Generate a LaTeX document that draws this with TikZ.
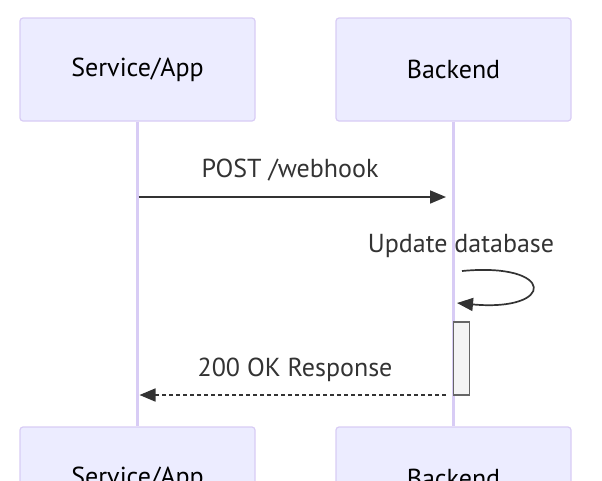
\documentclass[tikz,border=0pt]{standalone}
\usepackage{fontspec}
\setmainfont{PT Sans}
\usepackage{tikz}
\usetikzlibrary{positioning, arrows.meta}
\definecolor{sActor}{HTML}{ECECFF}
\definecolor{sBorder}{HTML}{D8CCF5}
\definecolor{sText}{HTML}{333333}
\definecolor{sAct}{HTML}{F4F4F4}
\definecolor{sActLine}{HTML}{666666}

\tikzset{
  actorbox/.style={draw=sBorder, fill=sActor, rounded corners=3pt, line width=1.2pt, text=black,
    font=\fontsize{26}{30}\selectfont, minimum width=235pt, minimum height=103pt, inner sep=0pt},
  lifeline/.style={draw=sBorder, line width=2.6pt},
  msglabel/.style={text=sText, font=\fontsize{26}{30}\selectfont, inner sep=0pt, anchor=base},
  msg/.style={draw=sText, line width=1.7pt, -{Triangle[length=16pt, width=13pt]}},
  actbox/.style={draw=sActLine, fill=sAct, line width=1.2pt, minimum width=16pt, minimum height=73pt, inner sep=0pt}
}

\begin{document}
\begin{tikzpicture}[x=1pt, y=-1pt]
  \useasboundingbox (0,0) rectangle (602,480);

  % actors
  \node[actorbox] (appTop) at (137.5,69.5) {Service/App};
  \node[actorbox] (backTop) at (453.5,69.5) {Backend};
  \node[actorbox] (appBot) at (137.5,478.5) {Service/App};
  \node[actorbox] (backBot) at (453.5,478.5) {Backend};
  \draw[lifeline] (appTop) -- (appBot);
  \draw[lifeline] (backTop) -- (backBot);

  % activation
  \node[actbox] (act) at (461.5,358.5) {};

  % messages
  \coordinate (postFrom) at (138.5,197);
  \coordinate (postTo) at (446,197);
  \draw[msg] (postFrom) -- (postTo);
  \node[msglabel] (postLbl) at (290,177) {POST /webhook};

  \coordinate (loopFrom) at (462,271);
  \coordinate (loopTo) at (457,303);
  \draw[msg] (loopFrom) .. controls (556,262) and (556,312) .. (loopTo);
  \node[msglabel] (loopLbl) at (461,252) {Update database};

  \coordinate (okFrom) at (446,395);
  \coordinate (okTo) at (139.5,395);
  \draw[msg, dash pattern=on 4pt off 3pt] (okFrom) -- (okTo);
  \node[msglabel] (okLbl) at (295,376) {200 OK Response};
\end{tikzpicture}
\end{document}
